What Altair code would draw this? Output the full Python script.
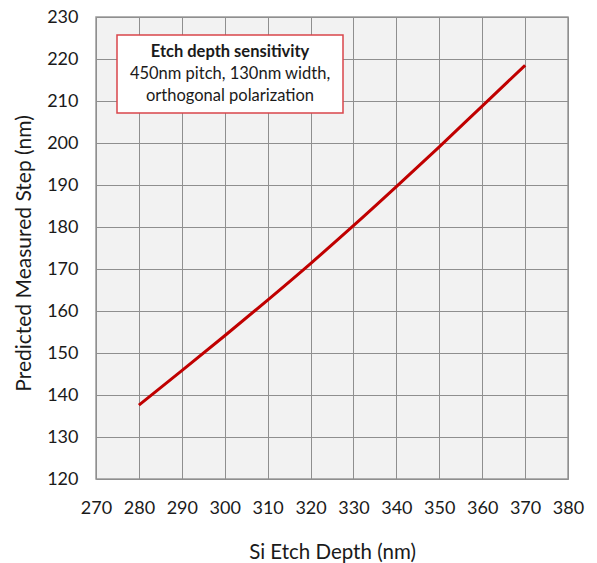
import altair as alt
import pandas as pd

depth = [280, 290, 300, 310, 320, 330, 340, 350, 360, 370]
step = [137.6, 145.8, 154.1, 162.6, 171.3, 180.3, 189.6, 199.1, 208.8, 218.5]

x_ticks = list(range(270, 381, 10))
y_ticks = list(range(120, 231, 10))

note_lines = ["Etch depth sensitivity", "450nm pitch, 130nm width,", "orthogonal polarization"]

df = pd.DataFrame({"depth": depth, "step": step})

FONT = "Lato"
GRID = "#8f8f8f"
TXT = "#1a1a1a"

W, H = 472, 462

base = alt.Chart(df)

line = base.mark_line(color="#C00000", strokeWidth=3, clip=True, interpolate="monotone").encode(
    x=alt.X("depth:Q", scale=alt.Scale(domain=[270, 380], nice=False, zero=False),
            axis=alt.Axis(values=x_ticks, title="Si Etch Depth (nm)", grid=True,
                          gridColor=GRID, gridOpacity=1, domain=False, ticks=False,
                          labelPadding=20, labelFontSize=18, labelColor=TXT,
                          labelFlush=False, labelOverlap=False,
                          labelFont=FONT, titleFont=FONT, titleFontSize=20.5,
                          titleFontWeight="normal", titleColor=TXT,
                          titleY=73, titleBaseline="middle")),
    y=alt.Y("step:Q", scale=alt.Scale(domain=[120, 230], nice=False, zero=False),
            axis=alt.Axis(values=y_ticks, title="Predicted Measured Step (nm)", grid=True,
                          gridColor=GRID, gridOpacity=1, domain=False, ticks=False,
                          labelPadding=18, labelFontSize=18, labelColor=TXT,
                          labelFlush=False, labelOverlap=False,
                          labelFont=FONT, titleFont=FONT, titleFontSize=21,
                          titleFontWeight="normal", titleColor=TXT,
                          titleX=-72, titleY=236, titleAngle=-90,
                          titleAlign="center", titleBaseline="middle")),
)

box = alt.Chart(pd.DataFrame({"a": [0]})).mark_rect(
    fill="white", stroke="#D9464B", strokeWidth=1.5
).encode(x=alt.value(21), x2=alt.value(247), y=alt.value(18), y2=alt.value(96))

notes = pd.DataFrame({"t": note_lines, "i": [0, 1, 2]})
note_bold = alt.Chart(notes.iloc[[0]]).mark_text(
    font=FONT, fontSize=16.5, fontWeight="bold", color=TXT, align="center", baseline="middle"
).encode(text="t:N", x=alt.value(134), y=alt.value(35))
note_rest1 = alt.Chart(notes.iloc[[1]]).mark_text(
    font=FONT, fontSize=16.5, color=TXT, align="center", baseline="middle"
).encode(text="t:N", x=alt.value(134), y=alt.value(57))
note_rest2 = alt.Chart(notes.iloc[[2]]).mark_text(
    font=FONT, fontSize=16.5, color=TXT, align="center", baseline="middle"
).encode(text="t:N", x=alt.value(134), y=alt.value(79))

chart = alt.layer(line, box, note_bold, note_rest1, note_rest2).properties(
    width=W, height=H,
    autosize=alt.AutoSizeParams(type="none"),
    padding={"left": 96, "top": 17, "right": 29, "bottom": 84},
    background="white",
).configure_view(
    fill="#F2F2F2", stroke="#9a9a9a", strokeWidth=1.5
)

chart.save("out.html", embed_options={"renderer": "svg", "actions": False})
